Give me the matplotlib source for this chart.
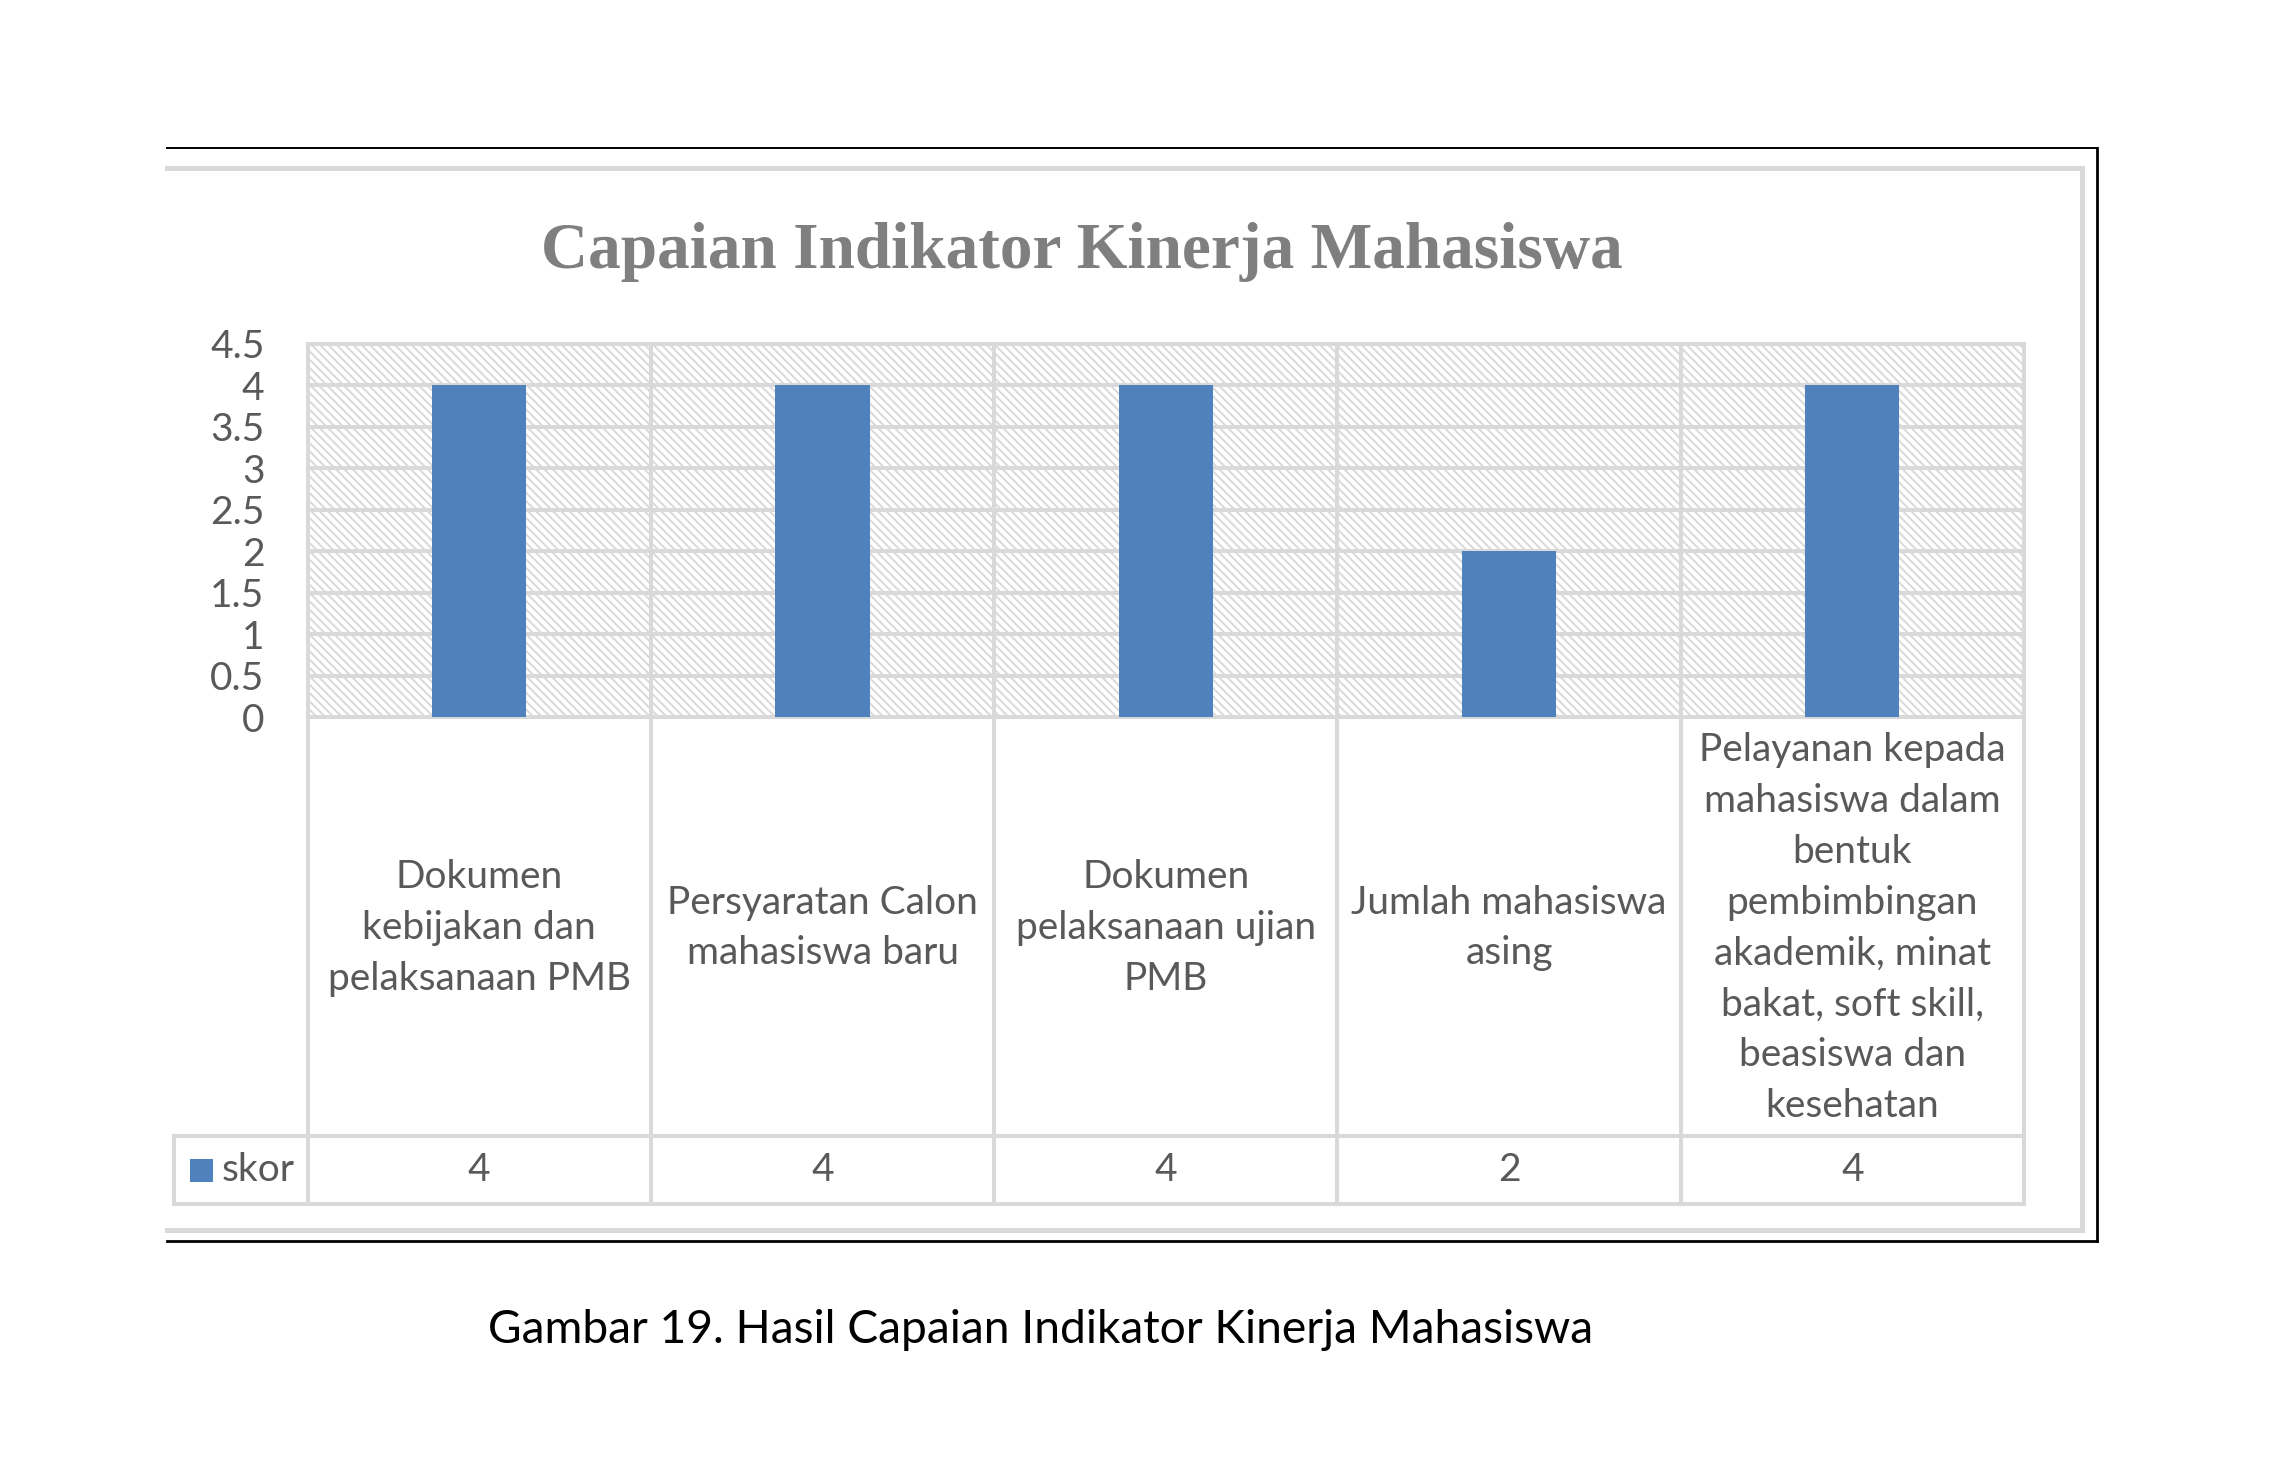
import matplotlib
matplotlib.use("Agg")
import matplotlib.pyplot as plt
from matplotlib.patches import Rectangle
from matplotlib.lines import Line2D
from matplotlib.font_manager import FontProperties
import numpy as np

# ---------------- data ----------------
categories = [
    "Dokumen\nkebijakan dan\npelaksanaan PMB",
    "Persyaratan Calon\nmahasiswa baru",
    "Dokumen\npelaksanaan ujian\nPMB",
    "Jumlah mahasiswa\nasing",
    "Pelayanan kepada\nmahasiswa dalam\nbentuk\npembimbingan\nakademik, minat\nbakat, soft skill,\nbeasiswa dan\nkesehatan",
]
skor = [4, 4, 4, 2, 4]
series_name = "skor"
y_ticks = [0, 0.5, 1, 1.5, 2, 2.5, 3, 3.5, 4, 4.5]
y_tick_labels = ["0", "0.5", "1", "1.5", "2", "2.5", "3", "3.5", "4", "4.5"]
title = "Capaian Indikator Kinerja Mahasiswa"
caption = "Gambar 19. Hasil Capaian Indikator Kinerja Mahasiswa"

# ---------------- style ----------------
W, H, DPI = 2275, 1457, 100
BAR = "#4f81bd"
GRID = "#d9d9d9"
TXT = "#595959"
FONT = "Lato"
FS = 28

plt.rcParams["hatch.color"] = GRID
plt.rcParams["hatch.linewidth"] = 1.4

fig = plt.figure(figsize=(W / DPI, H / DPI), dpi=DPI)
fig.patch.set_facecolor("white")

def fx(px):
    return px / W

def fy(py):
    return 1 - py / H

# plot area in pixels
L, R, T, B = 307.6, 2024.0, 344.0, 717.0
ax = fig.add_axes([fx(L), fy(B), fx(R) - fx(L), fy(T) - fy(B)])
n = len(categories)
ax.set_xlim(-0.5, n - 0.5)
ax.set_ylim(0, 4.5)
for s in ax.spines.values():
    s.set_visible(False)
ax.patch.set_facecolor("white")

# hatched background
bg = Rectangle((0, 0), 1, 1, transform=ax.transAxes, facecolor="white",
               edgecolor=GRID, linewidth=0, hatch="\\\\\\\\", zorder=0)
ax.add_patch(bg)

# gridlines
for yv in y_ticks:
    ax.axhline(yv, color=GRID, lw=2.9, zorder=1, clip_on=False)

# bars
x = np.arange(n)
ax.bar(x, skor, width=0.274, color=BAR, zorder=3)

# y ticks
ax.set_yticks(y_ticks)
ax.set_yticklabels(y_tick_labels, fontfamily=FONT, fontsize=FS, color=TXT)
ax.tick_params(axis="y", length=0, pad=31)
ax.set_xticks([])

# table geometry (axes coordinates)
def ay(py):
    return (B - py) / (B - T)

def axx(px):
    return (px - L) / (R - L)

row_sep = ay(1136)
tab_bot = ay(1204)
leg_left = axx(174)

xt = ax.get_xaxis_transform()
for b in np.arange(-0.5, n, 1.0):
    ax.plot([b, b], [1, tab_bot], transform=xt, color=GRID, lw=2.9,
            clip_on=False, zorder=2, solid_capstyle="projecting")
for yy in (row_sep, tab_bot):
    ax.plot([leg_left, 1], [yy, yy], transform=ax.transAxes, color=GRID,
            lw=2.9, clip_on=False, zorder=2, solid_capstyle="projecting")
ax.plot([leg_left, leg_left], [row_sep, tab_bot], transform=ax.transAxes,
        color=GRID, lw=2.9, clip_on=False, zorder=2, solid_capstyle="projecting")

# line spacing so that baseline step is ~50 px
renderer = fig.canvas.get_renderer()
fp = FontProperties(family=FONT, size=FS)
_, lp_h, lp_d = renderer.get_text_width_height_descent("lp", fp, ismath=False)
ls = 50.0 / (lp_h - lp_d) * (50.0 / 57.0)

cat_center = ay(928)
for i, c in enumerate(categories):
    ax.text(i, cat_center, c, transform=xt, ha="center", va="center",
            multialignment="center", fontfamily=FONT, fontsize=FS, color=TXT,
            linespacing=ls, clip_on=False)

val_y = ay(1170)
for i, v in enumerate(skor):
    ax.text(i, val_y, str(v), transform=xt, ha="center", va="center",
            fontfamily=FONT, fontsize=FS, color=TXT, clip_on=False)

# legend key
ax.add_patch(Rectangle((axx(190), ay(1182)), axx(213) - axx(190), ay(1159) - ay(1182),
                       transform=ax.transAxes, facecolor=BAR, edgecolor="none",
                       clip_on=False, zorder=3))
ax.text(axx(222), val_y, series_name, transform=ax.transAxes, ha="left", va="center",
        fontfamily=FONT, fontsize=FS, color=TXT, clip_on=False)

# title
fig.text(fx(1082), fy(268), title, ha="center", va="baseline",
         fontfamily="Liberation Serif", fontweight="bold", fontsize=47, color="#7f7f7f")

# gray chart frame
gk = dict(color=GRID, lw=3.6, transform=fig.transFigure, solid_capstyle="projecting")
fig.add_artist(Line2D([fx(167), fx(2082)], [fy(168), fy(168)], **gk))
fig.add_artist(Line2D([fx(2082), fx(2082)], [fy(168), fy(1230)], **gk))
fig.add_artist(Line2D([fx(167), fx(2082)], [fy(1230), fy(1230)], **gk))

# black outer frame
bk = dict(color="black", transform=fig.transFigure, solid_capstyle="projecting")
fig.add_artist(Line2D([fx(167), fx(2097)], [fy(148), fy(148)], lw=1.4, **bk))
fig.add_artist(Line2D([fx(2097), fx(2097)], [fy(148), fy(1241)], lw=2.0, **bk))
fig.add_artist(Line2D([fx(167), fx(2097)], [fy(1241), fy(1241)], lw=2.0, **bk))

# caption
fig.text(fx(1041), fy(1343), caption, ha="center", va="baseline",
         fontfamily=FONT, fontsize=33.2, color="black")

fig.savefig("out.png", dpi=DPI, facecolor="white")
